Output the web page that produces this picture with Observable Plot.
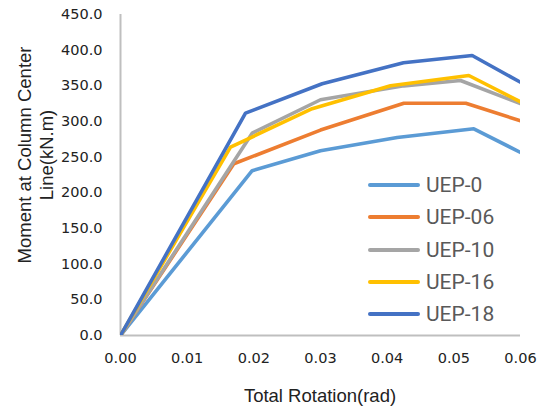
<!DOCTYPE html>
<html>
<head>
<meta charset="utf-8">
<script src="https://cdn.jsdelivr.net/npm/d3@7"></script>
<script src="https://cdn.jsdelivr.net/npm/@observablehq/plot@0.6"></script>
<style>
  html, body { margin: 0; padding: 0; background: #fff; }
  #wrap { position: relative; width: 542px; height: 407px; overflow: hidden; }
  #legend { position: absolute; left: 368px; top: 169px; font-family: Roboto, sans-serif; font-size: 21px; color: #595959; }
  .row { display: flex; align-items: center; height: 32.25px; }
  .sw { width: 52px; height: 4px; border-radius: 2px; margin-right: 6px; }
</style>
</head>
<body>
<div id="wrap"></div>
<script>
const seriesNames = ["UEP-0", "UEP-06", "UEP-10", "UEP-16", "UEP-18"];
const seriesColors = ["#5B9BD5", "#ED7D31", "#A5A5A5", "#FFC000", "#4472C4"];

const rotUEP0  = [0, 0.01975, 0.0300, 0.0415, 0.0530, 0.0600];
const momUEP0  = [0, 231, 259, 277.6, 289.8, 256.6];
const rotUEP06 = [0, 0.0170, 0.0300, 0.0425, 0.0518, 0.0600];
const momUEP06 = [0, 240.7, 288, 325.5, 325.5, 301];
const rotUEP10 = [0, 0.01975, 0.0300, 0.0425, 0.0510, 0.0600];
const momUEP10 = [0, 283.6, 330.5, 350, 357.5, 325];
const rotUEP16 = [0, 0.0165, 0.02875, 0.0405, 0.05225, 0.0600];
const momUEP16 = [0, 264, 318, 350, 364.5, 327.6];
const rotUEP18 = [0, 0.01875, 0.03025, 0.04245, 0.05275, 0.0600];
const momUEP18 = [0, 311.7, 352.9, 382.3, 392.5, 355];

const xTicks = [0, 0.01, 0.02, 0.03, 0.04, 0.05, 0.06];
const yTicks = [0, 50, 100, 150, 200, 250, 300, 350, 400, 450];
const xTitle = "Total Rotation(rad)";
const yTitleLines = ["Moment at Column Center", "Line(kN.m)"];

const rots = [rotUEP0, rotUEP06, rotUEP10, rotUEP16, rotUEP18];
const moms = [momUEP0, momUEP06, momUEP10, momUEP16, momUEP18];
const data = [];
seriesNames.forEach((s, i) => {
  rots[i].forEach((r, j) => data.push({series: s, rot: r, mom: moms[i][j]}));
});

const chart = Plot.plot({
  width: 542,
  height: 407,
  marginLeft: 120,
  marginRight: 22,
  marginTop: 14,
  marginBottom: 72,
  style: {fontFamily: "'DejaVu Sans', sans-serif", fontSize: "14.5px", color: "#222", background: "#fff", overflow: "visible"},
  x: {domain: [0, 0.06], ticks: xTicks, tickFormat: d3.format(".2f"), tickSize: 0, tickPadding: 17, label: null},
  y: {domain: [0, 450], ticks: yTicks, tickFormat: d3.format(".1f"), tickSize: 0, tickPadding: 18, label: null},
  color: {domain: seriesNames, range: seriesColors},
  marks: [
    Plot.ruleX([0], {stroke: "#bfbfbf", strokeWidth: 2}),
    Plot.ruleY([0], {stroke: "#bfbfbf", strokeWidth: 2}),
    Plot.line(data, {x: "rot", y: "mom", z: "series", stroke: "series", strokeWidth: 3.6, strokeLinejoin: "miter", clip: true})
  ]
});

const wrap = document.getElementById("wrap");
wrap.appendChild(chart);

const svg = d3.select(chart);
svg.append("text")
  .attr("x", 320).attr("y", 402)
  .attr("text-anchor", "middle")
  .attr("font-family", "'Liberation Sans', Arial, sans-serif")
  .attr("font-size", "18.5px")
  .attr("fill", "#222")
  .text(xTitle);
const yt = svg.append("text")
  .attr("transform", "translate(25,155) rotate(-90)")
  .attr("text-anchor", "middle")
  .attr("font-family", "'Liberation Sans', Arial, sans-serif")
  .attr("font-size", "18.5px")
  .attr("fill", "#222");
yTitleLines.forEach((t, i) => {
  yt.append("tspan").attr("x", 0).attr("y", i * 21.5).attr("dy", "0.35em").text(t);
});

const legend = document.createElement("div");
legend.id = "legend";
seriesNames.forEach((s, i) => {
  const row = document.createElement("div");
  row.className = "row";
  const sw = document.createElement("div");
  sw.className = "sw";
  sw.style.background = seriesColors[i];
  const lab = document.createElement("span");
  lab.textContent = s;
  row.appendChild(sw);
  row.appendChild(lab);
  legend.appendChild(row);
});
wrap.appendChild(legend);
</script>
</body>
</html>
